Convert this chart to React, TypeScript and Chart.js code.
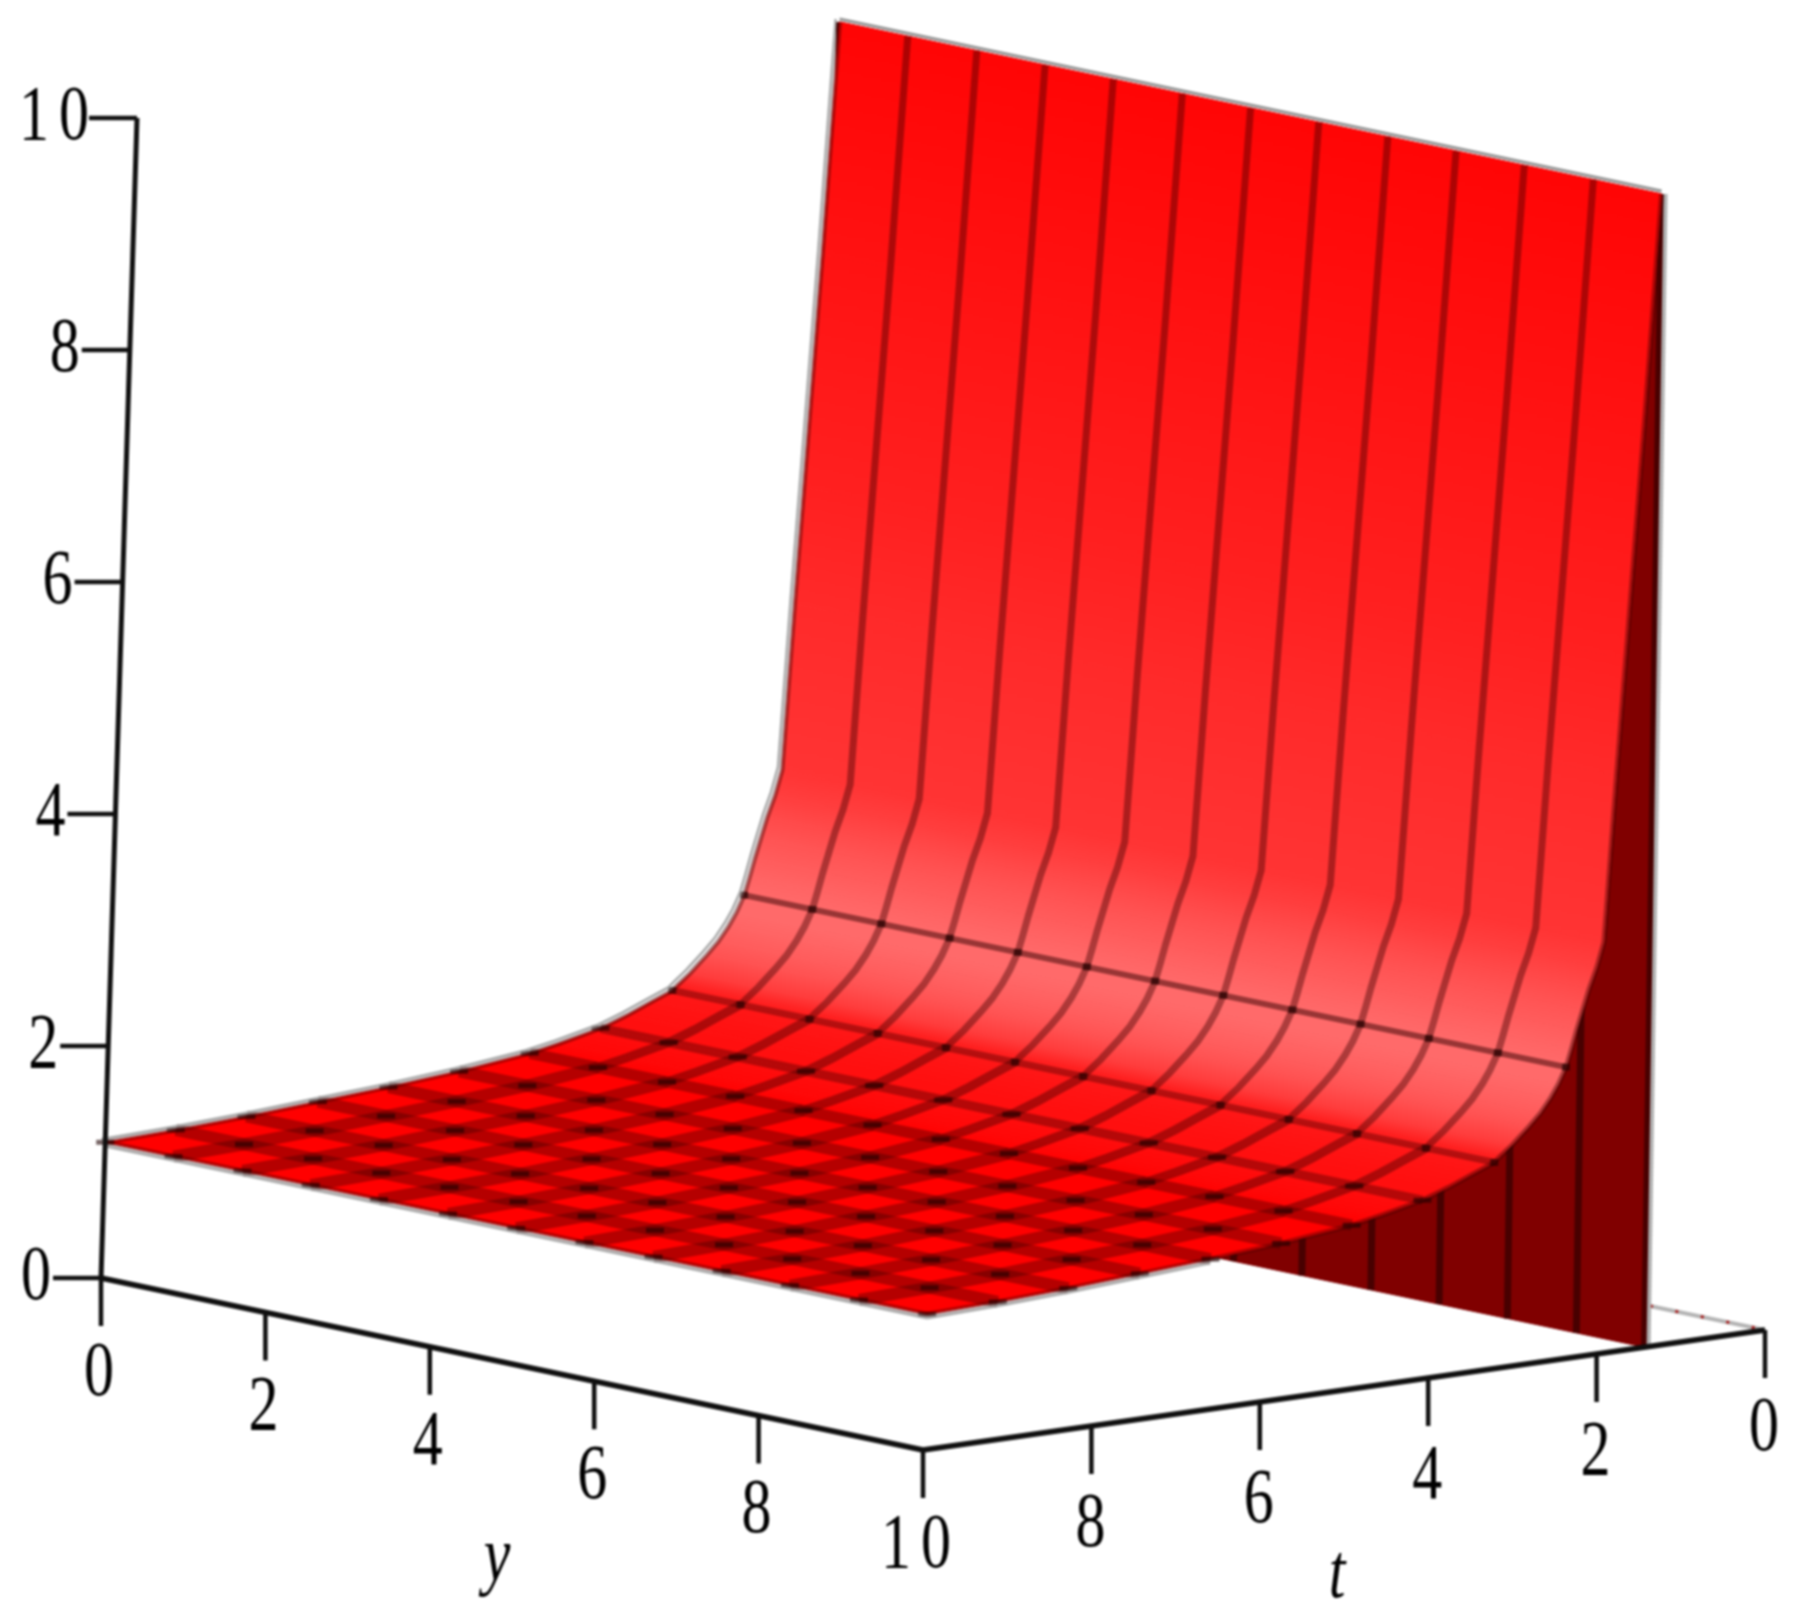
import React, { useEffect, useRef } from "react";
import { Chart, registerables } from "chart.js";

Chart.register(...registerables);

// surface profile z(t), far edge first
const profileT = [1.43, 1.6, 1.78, 1.87, 1.99, 2.07, 2.16, 2.23, 2.3, 2.36, 2.42, 2.51, 2.6, 2.72, 2.85, 3.05, 3.2, 3.26, 3.5, 3.8, 4.11, 4.6, 4.95, 5.79, 6.63, 7.47, 8.32, 9.16, 10];
const profileZ = [10, 8, 6, 5, 3.57, 3.36, 3.18, 3.01, 2.84, 2.68, 2.53, 2.39, 2.28, 2.16, 2.06, 1.92, 1.83, 1.79, 1.72, 1.63, 1.55, 1.47, 1.42, 1.35, 1.3, 1.26, 1.22, 1.19, 1.17];
const profileColor = ["#ff0505", "#ff1212", "#ff2020", "#ff2a2a", "#ff3434", "#ff3e3e", "#ff4a4a", "#ff5454", "#ff5c5c", "#ff6464", "#ff6a6a", "#ff6a6a", "#ff6464", "#ff5c5c", "#ff5252", "#ff3c3c", "#ff2020", "#ff1818", "#ff1414", "#ff1010", "#ff0e0e", "#ff0808", "#ff0000", "#ff0000", "#ff0000", "#ff0000", "#ff0000", "#ff0000", "#ff0000"];

// mesh lines
const yGrid = [0, 0.83, 1.67, 2.5, 3.33, 4.17, 5, 5.83, 6.67, 7.5, 8.33, 9.17, 10];
const tGrid = [2.42, 3.26, 4.11, 4.95, 5.79, 6.63, 7.47, 8.32, 9.16, 10];
const tGridWidth = [6, 7, 9, 11, 12, 12, 12, 12, 12, 5];
const meshBands = [
  { from: 0, to: 3.26, width: 7, color: "rgba(60,0,0,0.42)" },
  { from: 3.26, to: 4.95, width: 9, color: "rgba(60,0,0,0.42)" },
  { from: 4.95, to: 10, width: 12, color: "rgba(60,0,0,0.38)" },
];

// the vertical sheet at the far edge of the surface
const wallT = 1.43;
const wallTop = 10;

// axes
const axisTicks = [0, 2, 4, 6, 8, 10];
const backLineY = [8.6, 10];

const AXIS_FONT = '"Liberation Serif"';

// view of the 3D box: (y, t, z) -> picture position
function project(y: number, t: number, z: number) {
  const s = 10 - t;
  return {
    x: 101 + 82.2 * y + 84.2 * s + z * (3.6 - 0.222 * s),
    y: 1278 + 17.2 * y - 12 * s - z * (116 - 0.08 * s),
  };
}

const zAt = (t: number) => profileZ[profileT.indexOf(t)];

function line(points: { x: number; y: number }[], color: string, width: number, extra: any = {}) {
  return { data: points, showLine: true, borderColor: color, borderWidth: width, pointRadius: 0, fill: false, clip: false, ...extra };
}

function strip(i: number) {
  const a0 = project(0, profileT[i], profileZ[i]);
  const a1 = project(10, profileT[i], profileZ[i]);
  const b0 = project(0, profileT[i + 1], profileZ[i + 1]);
  const b1 = project(10, profileT[i + 1], profileZ[i + 1]);
  const paint = (c: any) => {
    const chart = c.chart;
    if (!chart.chartArea) return profileColor[i];
    const sx = chart.scales.x;
    const sy = chart.scales.y;
    const ax = sx.getPixelForValue(a0.x);
    const ay = sy.getPixelForValue(a0.y);
    const ex = sx.getPixelForValue(a1.x) - ax;
    const ey = sy.getPixelForValue(a1.y) - ay;
    const px = sx.getPixelForValue(b0.x) - ax;
    const py = sy.getPixelForValue(b0.y) - ay;
    const k = (px * ex + py * ey) / (ex * ex + ey * ey);
    const g = chart.ctx.createLinearGradient(ax, ay, ax + px - k * ex, ay + py - k * ey);
    g.addColorStop(0, profileColor[i]);
    g.addColorStop(1, profileColor[i + 1]);
    return g;
  };
  return { data: [a0, a1, b1, b0, a0], showLine: true, borderColor: paint, backgroundColor: paint, borderWidth: 1, pointRadius: 0, fill: "shape", clip: false };
}

function buildDatasets() {
  const back: any[] = [];
  // far floor line
  const backPts = backLineY.map((y) => project(y, 0, 0));
  back.push(line(backPts, "#b4b4b4", 4));
  back.push(line(backPts, "#a81c1c", 3, { borderDash: [3, 23] }));

  // the dark sheet
  const w = [project(0, wallT, 0), project(10, wallT, 0), project(10, wallT, wallTop), project(0, wallT, wallTop), project(0, wallT, 0)];
  back.push({ data: w, showLine: true, borderColor: "#800000", backgroundColor: "#800000", borderWidth: 1, pointRadius: 0, fill: "shape", clip: false });
  yGrid.forEach((y) => back.push(line([project(y, wallT, 0), project(y, wallT, wallTop)], "#480000", 7)));
  back.push(line([project(10, wallT, 0), project(10, wallT, wallTop)].map((p) => ({ x: p.x + 4, y: p.y })), "#b0b0b0", 4));

  // surface, far to near
  for (let i = 0; i < profileT.length - 1; i++) back.push(strip(i));

  // mesh
  tGrid.forEach((t, i) => {
    const z = zAt(t);
    back.push(line([project(0, t, z), project(10, t, z)], t < 3 ? "rgba(50,0,0,0.5)" : "rgba(60,0,0,0.38)", tGridWidth[i]));
  });
  yGrid.forEach((y) => {
    const edge = y === 0 || y === 10;
    meshBands.forEach((b) => {
      const ts = profileT.filter((t) => t >= b.from && t <= b.to);
      back.push(line(ts.map((t) => project(y, t, zAt(t))), b.color, edge ? 5 : b.width));
    });
  });
  // mesh nodes, dark horizontal smears
  yGrid.forEach((y) => {
    back.push({
      data: tGrid.map((t) => project(y, t, zAt(t))),
      showLine: false,
      pointStyle: "line",
      pointRadius: tGrid.map((t) => (t < 4 ? 4 : 9)),
      pointBorderWidth: tGrid.map((t) => (t < 4 ? 7 : 5)),
      pointBorderColor: "rgba(30,0,0,0.6)",
      clip: false,
    });
  });

  // silhouette edges
  const halo = "rgba(150,150,150,0.8)";
  back.push(line(profileT.map((t) => { const p = project(0, t, zAt(t)); return { x: p.x - 4, y: p.y - 3 }; }), halo, 2.5));
  back.push(line([project(0, 10, zAt(10)), project(10, 10, zAt(10))].map((p) => ({ x: p.x, y: p.y + 4 })), halo, 2.5));
  back.push(line(profileT.filter((t) => t >= 6.63).map((t) => { const p = project(10, t, zAt(t)); return { x: p.x, y: p.y + 4 }; }), halo, 2.5));
  back.push(line([project(0, wallT, wallTop), project(10, wallT, wallTop)].map((p) => ({ x: p.x, y: p.y - 3 })), "rgba(140,140,140,0.9)", 3));

  // axes
  const ink = "#101010";
  back.push(line([project(0, 10, 0), project(0, 10, 10)], ink, 5));
  back.push(line([project(0, 10, 0), project(10, 10, 0)], ink, 5.5));
  back.push(line([project(10, 10, 0), project(10, 0, 0)], ink, 5.5));
  axisTicks.forEach((v) => {
    const zp = project(0, 10, v);
    back.push(line([zp, { x: zp.x - 48, y: zp.y }], ink, 4.5));
    const yp = project(v, 10, 0);
    back.push(line([yp, { x: yp.x, y: yp.y + 48 }], ink, 4.5));
    const tp = project(10, v, 0);
    if (v !== 10) back.push(line([tp, { x: tp.x, y: tp.y + 48 }], ink, 4.5));
  });
  return back.reverse();
}

const paperPlugin = {
  id: "paper",
  beforeDraw(chart: any) {
    const { ctx, width, height } = chart;
    ctx.save();
    ctx.fillStyle = "#fff";
    ctx.fillRect(0, 0, width, height);
    ctx.restore();
  },
};

const textPlugin = {
  id: "axisText",
  afterDraw(chart: any) {
    const { ctx, scales, width, height } = chart;
    const put = (s: string, x: number, y: number, italic = false) => {
      ctx.save();
      ctx.translate(scales.x.getPixelForValue(x), scales.y.getPixelForValue(y));
      ctx.scale(1, 1.32);
      ctx.font = `${italic ? "italic " : ""}60px ${AXIS_FONT}`;
      (ctx as any).letterSpacing = s.length > 1 ? "10px" : "0px";
      ctx.fillStyle = "#000";
      ctx.textAlign = "center";
      ctx.textBaseline = "middle";
      ctx.fillText(s, 0, 0);
      ctx.restore();
    };
    axisTicks.forEach((v) => {
      const zp = project(0, 10, v);
      put(String(v), zp.x - (v === 10 ? 78 : 65), zp.y);
      const yp = project(v, 10, 0);
      put(String(v), yp.x - 2, yp.y + 96);
      if (v !== 10) {
        const tp = project(10, v, 0);
        put(String(v), tp.x - 1, tp.y + 99);
      }
    });
    const ym = project(5, 10, 0);
    put("y", ym.x - 15, ym.y + 195, true);
    const tm = project(10, 5, 0);
    put("t", tm.x - 7, tm.y + 186, true);
    // soften like the enlarged original picture
    ctx.save();
    (ctx as any).filter = "blur(0.9px)";
    ctx.drawImage(ctx.canvas, 0, 0, width, height);
    ctx.restore();
  },
};

export default function App() {
  const ref = useRef<HTMLCanvasElement>(null);
  useEffect(() => {
    const chart = new Chart(ref.current!, {
      type: "scatter",
      data: { datasets: buildDatasets() },
      options: {
        animation: false,
        responsive: false,
        events: [],
        layout: { autoPadding: false, padding: 0 },
        plugins: { legend: { display: false }, tooltip: { enabled: false }, title: { display: false } },
        scales: {
          x: { type: "linear", min: 0, max: 1797, display: false },
          y: { type: "linear", min: 0, max: 1620, reverse: true, display: false },
        },
      },
      plugins: [paperPlugin, textPlugin],
    } as any);
    return () => chart.destroy();
  }, []);
  return (
    <div style={{ position: "absolute", left: 0, top: 0, width: 1797, height: 1620, background: "#fff", overflow: "hidden" }}>
      <canvas ref={ref} width={1797} height={1620} style={{ display: "block" }} />
    </div>
  );
}
